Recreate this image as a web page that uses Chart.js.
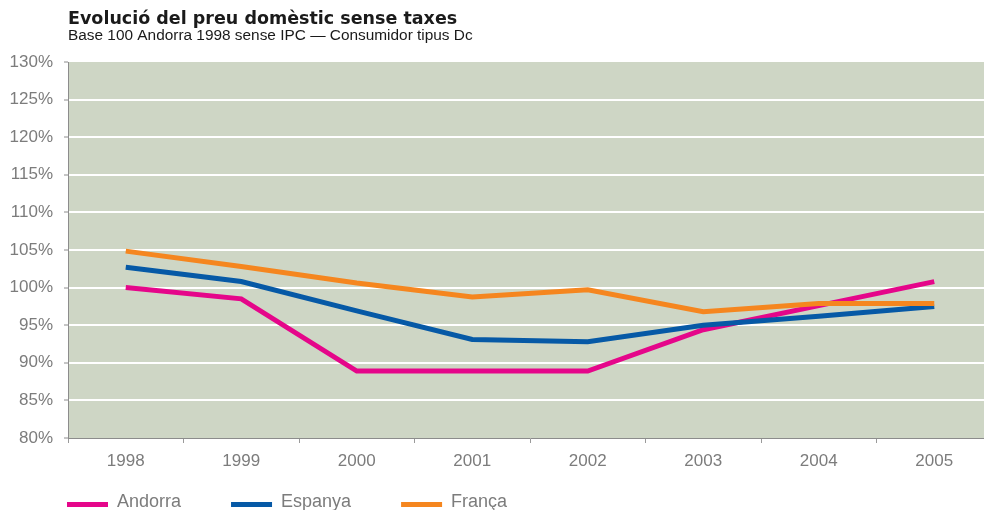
<!DOCTYPE html>
<html>
<head>
<meta charset="utf-8">
<script src="https://cdn.jsdelivr.net/npm/chart.js@4.4.1/dist/chart.umd.min.js"></script>
<style>
  html, body { margin: 0; padding: 0; background: #fff; overflow: hidden; }
  #wrap { width: 992px; height: 510px; }
</style>
</head>
<body>
<div id="wrap"><canvas id="grafic" width="992" height="510"></canvas></div>
<script>
const anys = ["1998", "1999", "2000", "2001", "2002", "2003", "2004", "2005"];
const andorra = [100, 98.5, 88.9, 88.9, 88.9, 94.4, 97.6, 100.8];
const espanya = [102.7, 100.8, 96.9, 93.1, 92.8, 95.0, 96.2, 97.5];
const franca = [104.85, 102.8, 100.6, 98.75, 99.7, 96.8, 97.9, 97.9];

const titol = "Evolució del preu domèstic sense taxes";
const subtitol = "Base 100 Andorra 1998 sense IPC — Consumidor tipus Dc";

const lletra = '"Liberation Sans", Arial, sans-serif';
const gris = "#7c7c7c";

// fons verd de l'àrea de dibuix
const fons = {
  id: "fons",
  beforeDraw(chart) {
    const { ctx, chartArea: a } = chart;
    ctx.save();
    ctx.fillStyle = "#ced6c5";
    ctx.fillRect(a.left, a.top, a.right - a.left, a.bottom - a.top);
    ctx.restore();
  }
};

// títol, subtítol i llegenda dibuixats a mà
const textos = {
  id: "textos",
  afterDraw(chart) {
    const { ctx, chartArea: a } = chart;
    ctx.save();
    ctx.textBaseline = "alphabetic";
    ctx.textAlign = "left";
    ctx.fillStyle = "#1a1a1a";
    ctx.font = 'bold 17.5px "DejaVu Sans", sans-serif';
    ctx.fillText(titol, a.left, 24);
    ctx.font = "15.4px " + lletra;
    ctx.fillText(subtitol, a.left, 40);

    ctx.font = "18px " + lletra;
    let x = a.left - 1;
    chart.data.datasets.forEach((ds) => {
      ctx.fillStyle = ds.borderColor;
      ctx.fillRect(x, 502, 41, 5);
      ctx.fillStyle = gris;
      ctx.fillText(ds.label, x + 50, 507);
      x += 50 + ctx.measureText(ds.label).width + 50;
    });
    ctx.restore();
  }
};

const ctx = document.getElementById("grafic").getContext("2d");
new Chart(ctx, {
  type: "line",
  data: {
    labels: anys,
    datasets: [
      { label: "Andorra", data: andorra, borderColor: "#e5068a", backgroundColor: "#e5068a", order: 2 },
      { label: "Espanya", data: espanya, borderColor: "#0659a6", backgroundColor: "#0659a6", order: 1 },
      { label: "França", data: franca, borderColor: "#f5861f", backgroundColor: "#f5861f", order: 0 }
    ]
  },
  options: {
    responsive: false,
    animation: false,
    layout: { padding: { top: 62, bottom: 32, left: 0, right: 0 } },
    elements: {
      line: { borderWidth: 5, tension: 0, borderCapStyle: "butt", borderJoinStyle: "miter" },
      point: { radius: 0 }
    },
    plugins: {
      legend: { display: false },
      tooltip: { enabled: false }
    },
    scales: {
      x: {
        offset: true,
        grid: { offset: true, drawOnChartArea: false, tickColor: "#9a9a9a", tickLength: 5 },
        border: { color: "#8c8c8c", width: 1 },
        ticks: { color: gris, font: { family: lletra, size: 17 }, padding: 8 },
        afterFit(scale) { scale.height = 40; }
      },
      y: {
        min: 80,
        max: 130,
        ticks: {
          stepSize: 5,
          color: gris,
          font: { family: lletra, size: 17 },
          padding: 11,
          callback: (v) => v + "%"
        },
        grid: {
          color: (c) => (c.tick && (c.tick.value === 80 || c.tick.value === 130) ? "rgba(0,0,0,0)" : "#ffffff"),
          lineWidth: 2,
          tickColor: "#8c8c8c",
          tickWidth: 1,
          tickLength: 4
        },
        border: { color: "#8c8c8c", width: 1 },
        afterFit(scale) { scale.width = 68; }
      }
    }
  },
  plugins: [fons, textos]
});
</script>
</body>
</html>
